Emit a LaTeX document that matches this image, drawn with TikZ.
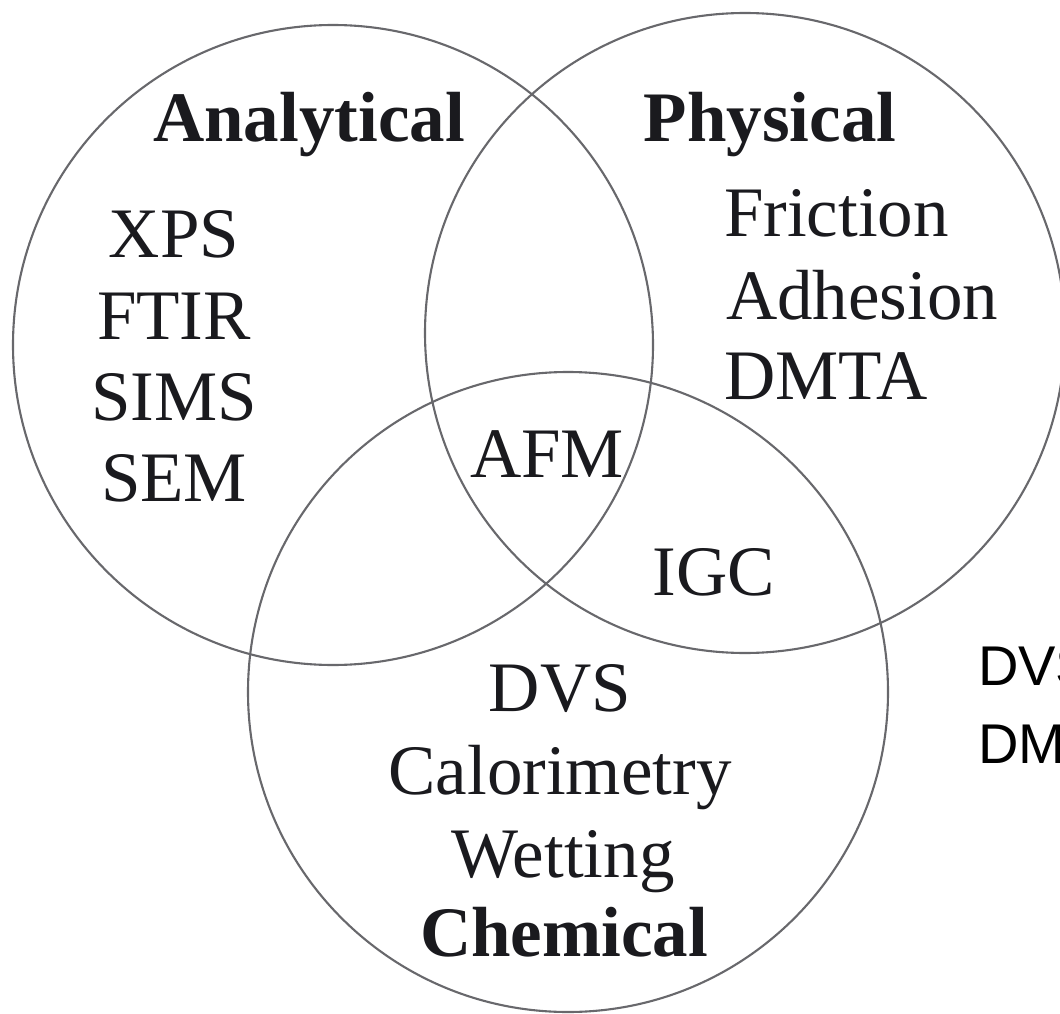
\documentclass[tikz,border=0pt]{standalone}
\usepackage{fontspec}
\setmainfont{Liberation Serif}
\newfontfamily\plainsans{Liberation Sans}
\definecolor{ringgray}{RGB}{104,104,108}
\definecolor{inkblack}{RGB}{26,26,30}
\begin{document}
\begin{tikzpicture}[x=1pt,y=-1pt,
  venn/.style={circle, draw=ringgray, line width=2.1pt, minimum size=640pt, inner sep=0pt, outer sep=0pt},
  item/.style={anchor=base, inner sep=0pt, outer sep=0pt, text=inkblack, font=\fontsize{71}{80}\selectfont},
  itemleft/.style={item, anchor=base west},
  heading/.style={item, font=\fontsize{71}{80}\selectfont\bfseries},
  sidenote/.style={anchor=base west, inner sep=0pt, outer sep=0pt, text=black, font=\plainsans\fontsize{56}{64}\selectfont}]
\useasboundingbox (0,0) rectangle (1060,1014);
\clip (0,0) rectangle (1060,1014);
\fill[white] (0,0) rectangle (1060,1014);

% the three overlapping sets
\node[venn] (ana)  at (333,345) {};
\node[venn] (phys) at (745,333) {};
\node[venn] (chem) at (568,692) {};

% Analytical
\node[heading] (anahead) at (309,142) {Analytical};
\node[item] (xps)  at (174,257) {XPS};
\node[item] (ftir) at (174,339) {FTIR};
\node[item] (sims) at (174,420) {SIMS};
\node[item] (sem)  at (174,501) {SEM};

% Physical
\node[heading] (physhead) at (770,142) {Physical};
\node[itemleft] (friction) at (724,236) {Friction};
\node[itemleft] (adhesion) at (726,319) {Adhesion};
\node[itemleft] (dmta)     at (724,399) {DMTA};

% overlaps
\node[item] (afm) at (547,477) {AFM};
\node[item] (igc) at (714,595) {IGC};

% Chemical
\node[item] (dvs)   at (560,711) {DVS};
\node[item] (calor) at (560,794) {Calorimetry};
\node[item] (wet)   at (563,877) {Wetting};
\node[heading] (chemhead) at (564,956) {Chemical};

% side list running off the right edge
\node[sidenote] (sidedvs)  at (978,685) {DVS};
\node[sidenote] (sidedmta) at (978,763) {DMTA};
\end{tikzpicture}
\end{document}
